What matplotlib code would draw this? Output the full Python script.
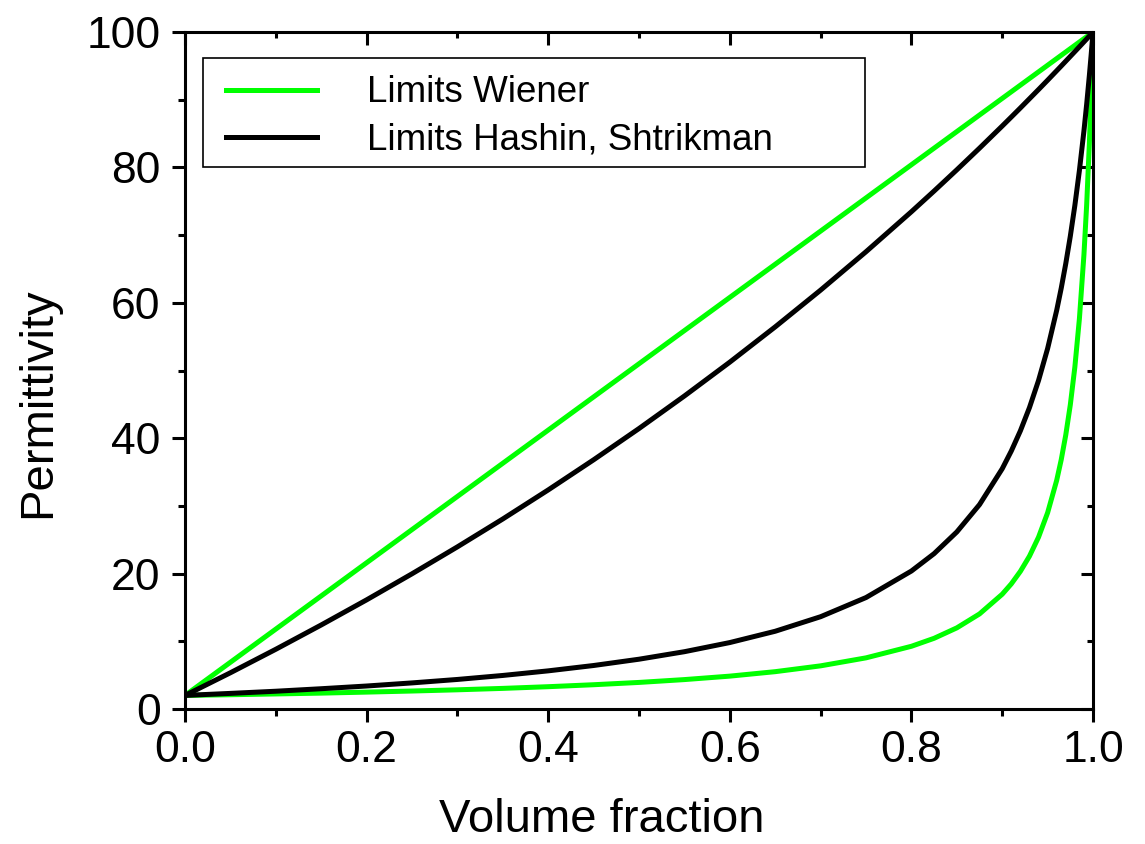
import matplotlib
matplotlib.use('Agg')
import matplotlib.pyplot as plt
from matplotlib.ticker import MultipleLocator
from matplotlib.patches import Rectangle

plt.rcParams['font.family'] = ['Liberation Sans', 'DejaVu Sans']

# volume fraction sample points (denser near 1 where the curves turn up)
x_frac = [0.0, 0.05, 0.1, 0.15, 0.2, 0.25, 0.3, 0.35, 0.4, 0.45, 0.5, 0.55, 0.6,
          0.65, 0.7, 0.75, 0.8, 0.825, 0.85, 0.875, 0.9, 0.91, 0.92, 0.93, 0.94,
          0.95, 0.96, 0.965, 0.97, 0.975, 0.98, 0.985, 0.99, 0.993, 0.996, 0.998, 1.0]

# Wiener bounds
wiener_upper = [2.0, 6.9, 11.8, 16.7, 21.6, 26.5, 31.4, 36.3, 41.2, 46.1, 51.0, 55.9, 60.8,
                65.7, 70.6, 75.5, 80.4, 82.85, 85.3, 87.75, 90.2, 91.18, 92.16, 93.14, 94.12,
                95.1, 96.08, 96.57, 97.06, 97.55, 98.04, 98.53, 99.02, 99.31, 99.61, 99.80, 100.0]
wiener_lower = [2.0, 2.10, 2.22, 2.34, 2.49, 2.65, 2.83, 3.04, 3.29, 3.58, 3.92, 4.34, 4.85,
                5.51, 6.37, 7.55, 9.26, 10.44, 11.98, 14.04, 16.95, 18.48, 20.33, 22.57, 25.38,
                28.99, 33.78, 36.83, 40.49, 44.94, 50.51, 57.64, 67.11, 74.46, 83.61, 91.07, 100.0]

# Hashin-Shtrikman bounds
hs_upper = [2.0, 5.35, 8.82, 12.41, 16.12, 19.97, 23.95, 28.07, 32.36, 36.81, 41.43, 46.24, 51.24,
            56.45, 61.88, 67.55, 73.46, 76.52, 79.65, 82.85, 86.12, 87.45, 88.79, 90.15, 91.51,
            92.89, 94.29, 94.99, 95.70, 96.41, 97.12, 97.83, 98.55, 98.98, 99.42, 99.71, 100.0]
hs_lower = [2.0, 2.30, 2.62, 2.99, 3.39, 3.85, 4.36, 4.95, 5.63, 6.42, 7.35, 8.46, 9.81,
            11.48, 13.63, 16.46, 20.38, 22.95, 26.15, 30.19, 35.49, 38.11, 41.09, 44.52, 48.53,
            53.25, 58.90, 62.17, 65.80, 69.85, 74.39, 79.54, 85.40, 89.33, 93.62, 96.71, 100.0]

fig = plt.figure(figsize=(11.45, 8.44), dpi=100)
ax = fig.add_axes([0.1616, 0.16, 0.793, 0.802])

green = '#00ff00'
lw = 3.6
ax.plot(x_frac, wiener_upper, color=green, lw=lw, label='Limits Wiener')
ax.plot(x_frac, wiener_lower, color=green, lw=lw)
ax.plot(x_frac, hs_upper, color='black', lw=lw, label='Limits Hashin, Shtrikman')
ax.plot(x_frac, hs_lower, color='black', lw=lw)

ax.set_xlim(0, 1)
ax.set_ylim(0, 100)
ax.xaxis.set_major_locator(MultipleLocator(0.2))
ax.xaxis.set_minor_locator(MultipleLocator(0.1))
ax.yaxis.set_major_locator(MultipleLocator(20))
ax.yaxis.set_minor_locator(MultipleLocator(10))
ax.xaxis.set_major_formatter(plt.FormatStrFormatter('%.1f'))

for s in ax.spines.values():
    s.set_linewidth(2.2)

ax.tick_params(which='major', direction='out', length=9.5, width=2.2, labelsize=32)
ax.tick_params(axis='x', which='major', pad=6)
ax.tick_params(axis='y', which='major', pad=8)
ax.tick_params(which='minor', direction='out', length=5, width=2.2)
# mirrored ticks on top/right point inward
ax2 = ax.secondary_xaxis('top')
ax2.xaxis.set_major_locator(MultipleLocator(0.2))
ax2.xaxis.set_minor_locator(MultipleLocator(0.1))
ax2.tick_params(which='major', direction='in', length=9, width=2.2, labeltop=False)
ax2.tick_params(which='minor', direction='in', length=4.5, width=2.2)
ax3 = ax.secondary_yaxis('right')
ax3.yaxis.set_major_locator(MultipleLocator(20))
ax3.yaxis.set_minor_locator(MultipleLocator(10))
ax3.tick_params(which='major', direction='in', length=9, width=2.2, labelright=False)
ax3.tick_params(which='minor', direction='in', length=4.5, width=2.2)

ax.set_xlabel('Volume fraction', fontsize=34)
ax.set_ylabel('Permittivity', fontsize=34)
ax.xaxis.set_label_coords(0.4587, -0.1315)
ax.yaxis.set_label_coords(-0.1377, 0.453)

# legend frame is wider than its entries
ax.add_patch(Rectangle((0.0198, 0.8006), 0.729, 0.161, transform=ax.transAxes,
                       fill=True, facecolor='white', edgecolor='black', lw=1.2, zorder=4))
leg = ax.legend(loc='upper left', bbox_to_anchor=(0.0452, 0.936), fontsize=26.5,
                frameon=False, borderpad=0, borderaxespad=0,
                handlelength=2.47, handletextpad=1.36, labelspacing=0.34)
leg.set_zorder(5)

fig.savefig('out.png', dpi=100)
